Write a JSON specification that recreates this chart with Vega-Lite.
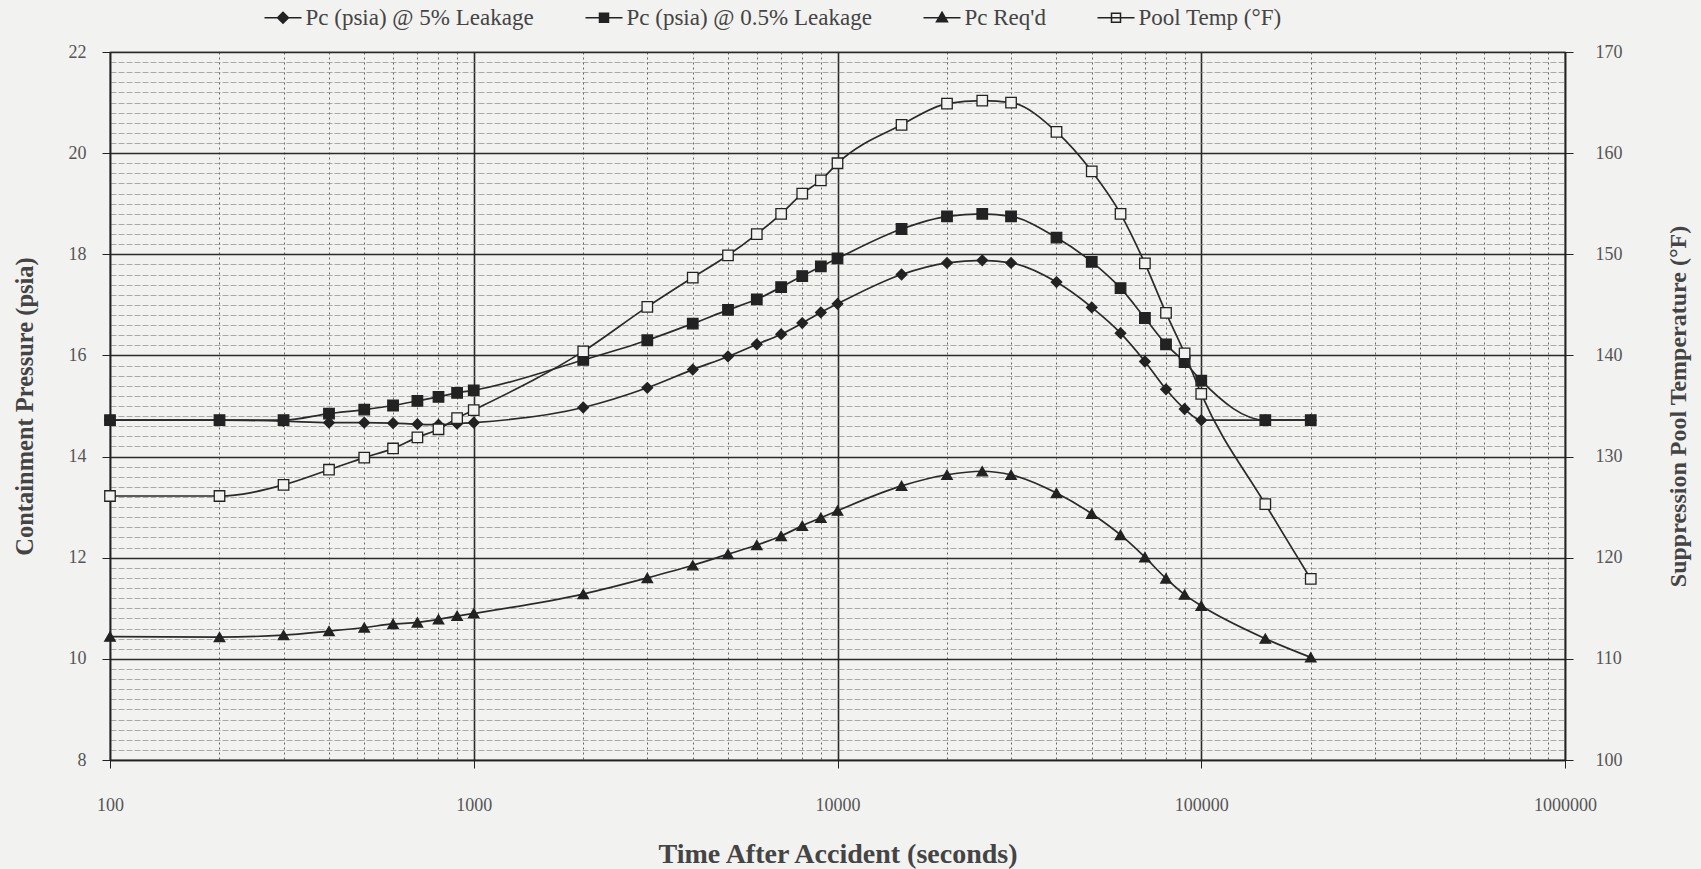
{
  "$schema": "https://vega.github.io/schema/vega-lite/v6.json",
  "autosize": {"type": "none"},
  "width": 1455,
  "height": 708,
  "padding": {"left": 110, "top": 52, "right": 136, "bottom": 109},
  "background": "#f2f2f0",
  "config": {
    "view": {"stroke": "#222", "strokeWidth": 1.2},
    "font": "Liberation Serif"
  },
  "data": {
    "values": [
      {"t": 100, "p5": 14.72, "p05": 14.72, "req": 10.44, "temp": 126.1},
      {"t": 200, "p5": 14.72, "p05": 14.72, "req": 10.43, "temp": 126.1},
      {"t": 300, "p5": 14.70, "p05": 14.72, "req": 10.47, "temp": 127.2},
      {"t": 400, "p5": 14.67, "p05": 14.85, "req": 10.55, "temp": 128.7},
      {"t": 500, "p5": 14.67, "p05": 14.93, "req": 10.62, "temp": 129.9},
      {"t": 600, "p5": 14.66, "p05": 15.01, "req": 10.69, "temp": 130.8},
      {"t": 700, "p5": 14.64, "p05": 15.10, "req": 10.72, "temp": 131.9},
      {"t": 800, "p5": 14.63, "p05": 15.18, "req": 10.78, "temp": 132.7},
      {"t": 900, "p5": 14.65, "p05": 15.26, "req": 10.85, "temp": 133.8},
      {"t": 1000, "p5": 14.67, "p05": 15.31, "req": 10.90, "temp": 134.6},
      {"t": 2000, "p5": 14.97, "p05": 15.91, "req": 11.28, "temp": 140.4},
      {"t": 3000, "p5": 15.36, "p05": 16.30, "req": 11.60, "temp": 144.8},
      {"t": 4000, "p5": 15.72, "p05": 16.63, "req": 11.85, "temp": 147.7},
      {"t": 5000, "p5": 15.98, "p05": 16.90, "req": 12.07, "temp": 149.9},
      {"t": 6000, "p5": 16.22, "p05": 17.11, "req": 12.25, "temp": 152.0},
      {"t": 7000, "p5": 16.42, "p05": 17.35, "req": 12.43, "temp": 154.0},
      {"t": 8000, "p5": 16.64, "p05": 17.57, "req": 12.63, "temp": 156.0},
      {"t": 9000, "p5": 16.85, "p05": 17.76, "req": 12.79, "temp": 157.3},
      {"t": 10000, "p5": 17.02, "p05": 17.92, "req": 12.93, "temp": 159.0},
      {"t": 15000, "p5": 17.60, "p05": 18.50, "req": 13.42, "temp": 162.8},
      {"t": 20000, "p5": 17.83, "p05": 18.75, "req": 13.64, "temp": 164.9},
      {"t": 25000, "p5": 17.88, "p05": 18.80, "req": 13.71, "temp": 165.2},
      {"t": 30000, "p5": 17.83, "p05": 18.75, "req": 13.64, "temp": 165.0},
      {"t": 40000, "p5": 17.45, "p05": 18.33, "req": 13.28, "temp": 162.1},
      {"t": 50000, "p5": 16.95, "p05": 17.85, "req": 12.87, "temp": 158.2},
      {"t": 60000, "p5": 16.44, "p05": 17.33, "req": 12.45, "temp": 154.0},
      {"t": 70000, "p5": 15.88, "p05": 16.74, "req": 12.01, "temp": 149.1},
      {"t": 80000, "p5": 15.33, "p05": 16.22, "req": 11.59, "temp": 144.2},
      {"t": 90000, "p5": 14.94, "p05": 15.87, "req": 11.27, "temp": 140.2},
      {"t": 100000, "p5": 14.72, "p05": 15.50, "req": 11.05, "temp": 136.2},
      {"t": 150000, "p5": 14.72, "p05": 14.72, "req": 10.40, "temp": 125.3},
      {"t": 200000, "p5": 14.72, "p05": 14.72, "req": 10.03, "temp": 117.9}
    ]
  },
  "encoding": {
    "x": {
      "field": "t",
      "type": "quantitative",
      "scale": {"type": "log", "domain": [100, 1000000], "nice": false},
      "axis": {
        "values": [100, 200, 300, 400, 500, 600, 700, 800, 900, 1000, 2000, 3000, 4000, 5000, 6000, 7000, 8000, 9000, 10000, 20000, 30000, 40000, 50000, 60000, 70000, 80000, 90000, 100000, 200000, 300000, 400000, 500000, 600000, 700000, 800000, 900000, 1000000],
        "title": "Time After Accident (seconds)",
        "titleFont": "Liberation Serif",
        "titleFontSize": 28,
        "titleFontWeight": "bold",
        "titleColor": "#444",
        "titlePadding": 26,
        "labelFont": "Liberation Serif",
        "labelFontSize": 18,
        "labelColor": "#555",
        "labelPadding": 28,
        "labelOverlap": false,
        "labelFlush": false,
        "labelExpr": "abs(log(datum.value)/LN10 - round(log(datum.value)/LN10)) < 0.001 ? format(datum.value, 'd') : ''",
        "tickSize": 8,
        "tickColor": "#222",
        "tickOpacity": {"condition": {"test": "abs(log(datum.value)/LN10 - round(log(datum.value)/LN10)) < 0.001", "value": 1}, "value": 0},
        "domainColor": "#222",
        "domainWidth": 1.5,
        "grid": true,
        "gridColor": {"condition": {"test": "abs(log(datum.value)/LN10 - round(log(datum.value)/LN10)) < 0.001", "value": "#2a2a2a"}, "value": "#555"},
        "gridWidth": {"condition": {"test": "abs(log(datum.value)/LN10 - round(log(datum.value)/LN10)) < 0.001", "value": 1.6}, "value": 0.9},
        "gridDash": {"condition": {"test": "abs(log(datum.value)/LN10 - round(log(datum.value)/LN10)) < 0.001", "value": []}, "value": [2, 3]},
        "gridOpacity": 1
      }
    }
  },
  "layer": [
    {
      "transform": [{"fold": ["p5", "p05", "req"], "as": ["series", "value"]}],
      "encoding": {
        "y": {
          "field": "value",
          "type": "quantitative",
          "scale": {"domain": [8, 22], "nice": false, "zero": false},
          "axis": {
            "orient": "left",
            "values": [8, 8.2, 8.4, 8.6, 8.8, 9, 9.2, 9.4, 9.6, 9.8, 10, 10.2, 10.4, 10.6, 10.8, 11, 11.2, 11.4, 11.6, 11.8, 12, 12.2, 12.4, 12.6, 12.8, 13, 13.2, 13.4, 13.6, 13.8, 14, 14.2, 14.4, 14.6, 14.8, 15, 15.2, 15.4, 15.6, 15.8, 16, 16.2, 16.4, 16.6, 16.8, 17, 17.2, 17.4, 17.6, 17.8, 18, 18.2, 18.4, 18.6, 18.8, 19, 19.2, 19.4, 19.6, 19.8, 20, 20.2, 20.4, 20.6, 20.8, 21, 21.2, 21.4, 21.6, 21.8, 22],
            "title": "Containment Pressure (psia)",
            "titleFont": "Liberation Serif",
            "titleFontSize": 24.5,
            "titleFontWeight": "bold",
            "titleColor": "#444",
            "titlePadding": 31,
            "labelFont": "Liberation Serif",
            "labelFontSize": 18,
            "labelColor": "#555",
            "labelPadding": 16,
            "labelOverlap": false,
            "labelFlush": false,
            "labelExpr": "abs(datum.value/2 - round(datum.value/2)) < 0.01 ? format(datum.value, 'd') : ''",
            "tickSize": 8,
            "tickColor": "#222",
            "tickOpacity": {"condition": {"test": "abs(datum.value/2 - round(datum.value/2)) < 0.01", "value": 1}, "value": 0},
            "domainColor": "#222",
            "domainWidth": 1.5,
            "grid": true,
            "gridColor": {"condition": {"test": "abs(datum.value/2 - round(datum.value/2)) < 0.01", "value": "#2a2a2a"}, "value": "#8a8a8a"},
            "gridWidth": {"condition": {"test": "abs(datum.value/2 - round(datum.value/2)) < 0.01", "value": 1.6}, "value": 0.7},
            "gridDash": {"condition": {"test": "abs(datum.value/2 - round(datum.value/2)) < 0.01", "value": []}, "value": [6, 2]},
            "gridOpacity": 1
          }
        }
      },
      "layer": [
        {
          "mark": {"type": "line", "interpolate": "monotone", "color": "#2a2a2a", "strokeWidth": 1.7, "clip": false},
          "encoding": {"detail": {"field": "series", "type": "nominal"}}
        },
        {
          "mark": {"type": "point", "filled": true, "stroke": "#222", "strokeWidth": 1.3, "size": 110, "opacity": 1, "clip": false},
          "encoding": {
            "shape": {
              "field": "series",
              "type": "nominal",
              "scale": {"domain": ["p5", "p05", "req", "temp", "other"], "range": ["diamond", "square", "triangle-up", "square", "circle"]},
              "legend": null
            },
            "fill": {
              "field": "series",
              "type": "nominal",
              "scale": {"domain": ["p5", "p05", "req", "temp"], "range": ["#222", "#222", "#222", "#f2f2f0"]},
              "legend": {
                "orient": "none",
                "legendX": 148,
                "legendY": -46,
                "direction": "horizontal",
                "columns": 4,
                "columnPadding": 45,
                "title": null,
                "padding": 0,
                "values": ["p5", "p05", "req", "temp"],
                "labelFont": "Liberation Serif",
                "labelFontSize": 23,
                "labelColor": "#444",
                "labelLimit": 400,
                "symbolSize": 100,
                "symbolOffset": 13.5,
                "labelOffset": 11,
                "symbolOpacity": 1,
                "symbolType": {"expr": "datum.value === 'p5' ? 'M-3.7,0H3.7M0,-1.1L1.1,0L0,1.1L-1.1,0Z' : datum.value === 'req' ? 'M-3.7,0H3.7M0,-1.1L1.1,0.8H-1.1Z' : 'M-3.7,0H3.7M-0.9,-0.9H0.9V0.9H-0.9Z'"},
                "labelExpr": "datum.value === 'p5' ? 'Pc (psia) @ 5% Leakage' : datum.value === 'p05' ? 'Pc (psia) @ 0.5% Leakage' : datum.value === 'req' ? \"Pc Req'd\" : 'Pool Temp (°F)'",
                "encode": {
                  "symbols": {
                    "stroke": {"value": "#222"},
                    "strokeWidth": {"value": 1.5},
                    "size": {"value": 100}
                  }
                }
              }
            }
          }
        }
      ]
    },
    {
      "transform": [{"fold": ["temp"], "as": ["series", "value"]}],
      "encoding": {
        "y": {
          "field": "value",
          "type": "quantitative",
          "scale": {"domain": [100, 170], "nice": false, "zero": false},
          "axis": {
            "orient": "right",
            "values": [100, 110, 120, 130, 140, 150, 160, 170],
            "title": "Suppression Pool Temperature (°F)",
            "titleAngle": 270,
            "titleFont": "Liberation Serif",
            "titleFontSize": 24,
            "titleFontWeight": "bold",
            "titleColor": "#444",
            "titlePadding": 68,
            "labelFont": "Liberation Serif",
            "labelFontSize": 18,
            "labelColor": "#555",
            "labelPadding": 22,
            "tickSize": 8,
            "tickColor": "#222",
            "domainColor": "#222",
            "domainWidth": 1.5,
            "grid": false
          }
        }
      },
      "layer": [
        {
          "mark": {"type": "line", "interpolate": "monotone", "color": "#2a2a2a", "strokeWidth": 1.7, "clip": false},
          "encoding": {"detail": {"field": "series", "type": "nominal"}}
        },
        {
          "mark": {"type": "point", "filled": true, "stroke": "#222", "strokeWidth": 1.3, "size": 110, "opacity": 1, "clip": false},
          "encoding": {
            "shape": {"field": "series", "type": "nominal", "legend": null},
            "fill": {"field": "series", "type": "nominal"}
          }
        }
      ]
    }
  ],
  "resolve": {"scale": {"y": "independent"}}
}
